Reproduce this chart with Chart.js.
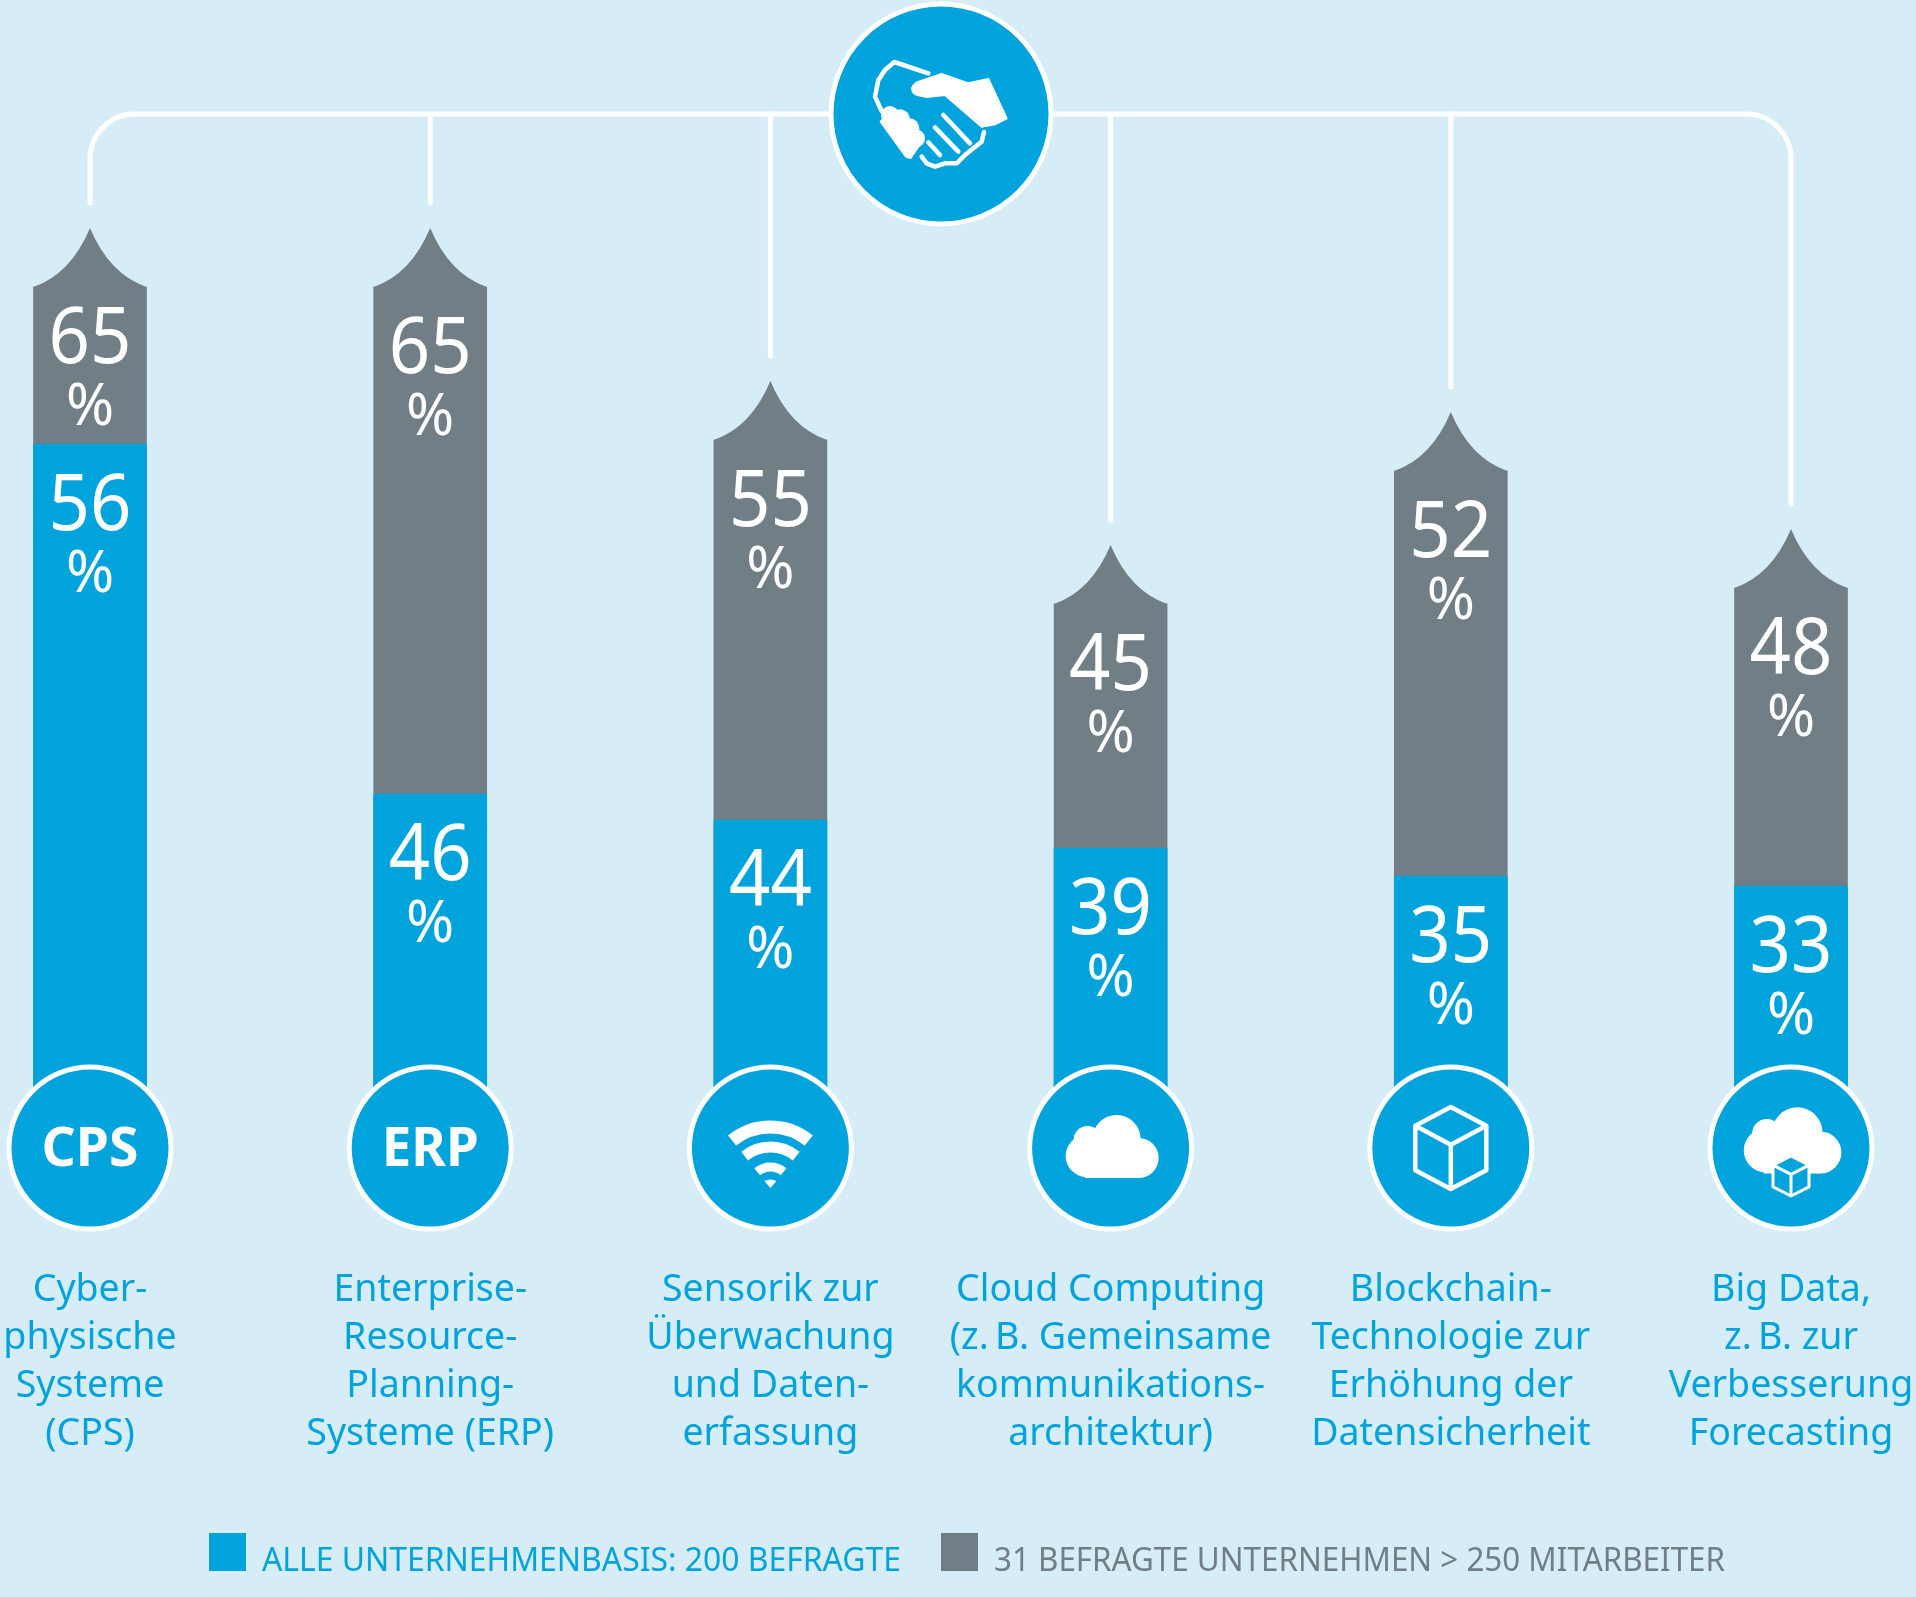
<!DOCTYPE html>
<html lang="de">
<head>
<meta charset="utf-8">
<title>Technologien</title>
<script src="https://cdn.jsdelivr.net/npm/chart.js@4/dist/chart.umd.min.js"></script>
<style>
  html, body { margin: 0; padding: 0; background: #d6ecf7; }
  canvas { display: block; }
</style>
</head>
<body>
<canvas id="chart" width="1916" height="1597"></canvas>
<script>
const categories = [
    ['Cyber-', 'physische', 'Systeme', '(CPS)'],
    ['Enterprise-', 'Resource-', 'Planning-', 'Systeme (ERP)'],
    ['Sensorik zur', 'Überwachung', 'und Daten-', 'erfassung'],
    ['Cloud Computing', '(z.\u2009B. Gemeinsame', 'kommunikations-', 'architektur)'],
    ['Blockchain-', 'Technologie zur', 'Erhöhung der', 'Datensicherheit'],
    ['Big Data,', 'z.\u2009B. zur', 'Verbesserung', 'Forecasting']
];
const allCompanies = [56, 46, 44, 39, 35, 33];
const largeCompanies = [65, 65, 55, 45, 52, 48];
const allCompaniesLabel = 'ALLE UNTERNEHMENBASIS: 200 BEFRAGTE';
const largeCompaniesLabel = '31 BEFRAGTE UNTERNEHMEN > 250 MITARBEITER';
const icons = ['CPS', 'ERP', 'wifi', 'cloud', 'cube', 'cloudCube'];

// the bars in the picture are not to one linear scale, so each series
// gets its own piecewise axis: [value, pixel]
const allCompaniesAxis = [[0, 1147], [33, 886], [35, 876], [39, 848], [44, 820], [46, 794], [56, 444]];
const largeCompaniesAxis = [[0, 1147], [45, 604], [48, 588], [52, 471], [55, 440], [65, 287]];

const BLUE = '#00a3db';
const GREY = '#717e85';
const WHITE = '#ffffff';
const FONT = '"Noto Sans", sans-serif';

class PiecewiseScale extends Chart.LinearScale {
    static id = 'piecewise';
    static defaults = {};

    getPixelForValue(value) {
        const stops = this.options.stops;
        for (let i = 1; i < stops.length; i++) {
            if (value <= stops[i][0]) {
                const t = (value - stops[i - 1][0]) / (stops[i][0] - stops[i - 1][0]);
                return stops[i - 1][1] + t * (stops[i][1] - stops[i - 1][1]);
            }
        }
        return stops[stops.length - 1][1];
    }
}
Chart.register(PiecewiseScale);

const CIRCLE_Y = 1148;
const HUB_X = 941;
const HUB_Y = 114;

function condensedText(ctx, text, x, y, squeeze) {
    ctx.fillText(text, x, y, ctx.measureText(text).width * squeeze);
}

function badge(ctx, x, y, r, border) {
    ctx.beginPath();
    ctx.arc(x, y, r, 0, Math.PI * 2);
    ctx.fillStyle = BLUE;
    ctx.fill();
    ctx.lineWidth = border;
    ctx.strokeStyle = WHITE;
    ctx.stroke();
}

function drawCloud(ctx, x, y, s) {
    ctx.fillStyle = WHITE;
    const lobes = [[-24, 8, 21], [-23, -8, 14], [6, -9, 24], [28, 10, 20]];
    lobes.forEach(l => {
        ctx.beginPath();
        ctx.arc(x + l[0] * s, y + l[1] * s, l[2] * s, 0, Math.PI * 2);
        ctx.fill();
    });
    ctx.fillRect(x - 26 * s, y + 5 * s, 54 * s, 25 * s);
}

function drawCube(ctx, x, y, w, h, lw, fill) {
    const side = h * 0.23;
    ctx.beginPath();
    ctx.moveTo(x, y - h / 2);
    ctx.lineTo(x + w / 2, y - h / 2 + side);
    ctx.lineTo(x + w / 2, y + h / 2 - side);
    ctx.lineTo(x, y + h / 2);
    ctx.lineTo(x - w / 2, y + h / 2 - side);
    ctx.lineTo(x - w / 2, y - h / 2 + side);
    ctx.closePath();
    if (fill) {
        ctx.fillStyle = fill;
        ctx.fill();
    }
    ctx.moveTo(x - w / 2, y - h / 2 + side);
    ctx.lineTo(x, y - h / 2 + 2 * side);
    ctx.lineTo(x + w / 2, y - h / 2 + side);
    ctx.moveTo(x, y - h / 2 + 2 * side);
    ctx.lineTo(x, y + h / 2);
    ctx.strokeStyle = WHITE;
    ctx.lineWidth = lw;
    ctx.lineJoin = 'round';
    ctx.stroke();
}

function drawWifi(ctx, x, y) {
    const tip = y + 40;
    const start = -Math.PI / 2 - 0.68;
    const end = -Math.PI / 2 + 0.68;
    ctx.strokeStyle = WHITE;
    [[61, 13], [41, 11], [21, 9]].forEach(a => {
        ctx.beginPath();
        ctx.lineWidth = a[1];
        ctx.arc(x, tip, a[0], start, end);
        ctx.stroke();
    });
    ctx.fillStyle = WHITE;
    ctx.beginPath();
    ctx.moveTo(x, tip);
    ctx.lineTo(x - 6, tip - 7);
    ctx.quadraticCurveTo(x, tip - 10, x + 6, tip - 7);
    ctx.closePath();
    ctx.fill();
}

function drawHandshake(ctx) {
    const px = (x, y) => [810 + x / 3, y / 3];
    const path = pts => {
        ctx.beginPath();
        pts.forEach((p, i) => {
            const q = px(p[0], p[1]);
            if (i == 0) ctx.moveTo(q[0], q[1]);
            else ctx.lineTo(q[0], q[1]);
        });
    };
    const dot = (x, y, r) => {
        const q = px(x, y);
        ctx.beginPath();
        ctx.arc(q[0], q[1], r, 0, Math.PI * 2);
        ctx.fill();
    };
    ctx.fillStyle = WHITE;
    ctx.strokeStyle = WHITE;
    ctx.lineCap = 'round';
    ctx.lineJoin = 'round';

    // right hand
    path([[535, 237], [590, 355], [555, 373], [515, 380], [405, 285], [350, 291], [322, 285], [306, 265],
          [320, 247], [395, 222], [475, 250]]);
    ctx.closePath();
    ctx.fill();
    ctx.lineWidth = 2;
    ctx.stroke();
    dot(325, 267, 7);

    // left fist
    path([[212, 365], [238, 336], [330, 432], [302, 474], [288, 470]]);
    ctx.closePath();
    ctx.fill();
    ctx.stroke();
    [[240, 345, 9], [270, 358, 10], [298, 385, 10], [318, 415, 9]].forEach(b => dot(b[0], b[1], b[2]));

    ctx.lineWidth = 4.5;
    path([[355, 220], [253, 186], [225, 210], [205, 240], [195, 290], [215, 333]]);
    ctx.stroke();
    [[[400, 345], [480, 430]], [[375, 382], [445, 455]], [[355, 427], [390, 465]]].forEach(l => {
        path(l);
        ctx.stroke();
    });
    path([[522, 396], [515, 425], [490, 445], [465, 465], [440, 490], [405, 490], [375, 500], [350, 490], [335, 470]]);
    ctx.stroke();
    ctx.lineCap = 'butt';
}

const leaderPlugin = {
    id: 'leaderPlugin',
    beforeDatasetsDraw(chart) {
        const { ctx } = chart;
        const bars = chart.getDatasetMeta(1).data;
        const r = 45;

        ctx.save();
        ctx.strokeStyle = WHITE;
        ctx.lineWidth = 5;
        ctx.lineCap = 'round';

        // rounded rail with the two outer leaders
        const first = bars[0];
        const last = bars[bars.length - 1];
        ctx.beginPath();
        ctx.moveTo(first.x, first.y - 84);
        ctx.lineTo(first.x, HUB_Y + r);
        ctx.arcTo(first.x, HUB_Y, first.x + r, HUB_Y, r);
        ctx.lineTo(last.x - r, HUB_Y);
        ctx.arcTo(last.x, HUB_Y, last.x, HUB_Y + r, r);
        ctx.lineTo(last.x, last.y - 84);
        ctx.stroke();

        bars.slice(1, -1).forEach(bar => {
            ctx.beginPath();
            ctx.moveTo(bar.x, HUB_Y);
            ctx.lineTo(bar.x, bar.y - 84);
            ctx.stroke();
        });

        // pointed roof on the grey bars
        ctx.fillStyle = GREY;
        bars.forEach(bar => {
            const half = bar.width / 2;
            ctx.beginPath();
            ctx.moveTo(bar.x - half, bar.y + 1);
            ctx.lineTo(bar.x - half, bar.y);
            ctx.quadraticCurveTo(bar.x - half * 0.34, bar.y - 13, bar.x, bar.y - 59);
            ctx.quadraticCurveTo(bar.x + half * 0.34, bar.y - 13, bar.x + half, bar.y);
            ctx.lineTo(bar.x + half, bar.y + 1);
            ctx.closePath();
            ctx.fill();
        });
        ctx.restore();
    },
    afterDatasetsDraw(chart) {
        const { ctx } = chart;
        const blueBars = chart.getDatasetMeta(0).data;
        const greyBars = chart.getDatasetMeta(1).data;

        ctx.save();
        ctx.textAlign = 'center';
        ctx.textBaseline = 'alphabetic';
        ctx.fillStyle = WHITE;

        const valueLabel = (x, top, value) => {
            ctx.font = '78px ' + FONT;
            condensedText(ctx, String(value), x, top + 55, 0.93);
            ctx.font = '58px ' + FONT;
            ctx.fillText('%', x, top + 117);
        };
        blueBars.forEach((bar, i) => {
            valueLabel(bar.x, bar.y + 31, allCompanies[i]);
        });
        greyBars.forEach((bar, i) => {
            // the label block moves up when the visible grey part is short
            const visible = blueBars[i].y - bar.y;
            valueLabel(bar.x, bar.y + Math.min(31, (visible - 117) / 2 + 1), largeCompanies[i]);
        });

        // icon badges at the foot of the bars
        blueBars.forEach((bar, i) => {
            badge(ctx, bar.x, CIRCLE_Y, 81, 5);
            ctx.fillStyle = WHITE;
            const icon = icons[i];
            if (icon == 'CPS' || icon == 'ERP') {
                ctx.font = 'bold 54px ' + FONT;
                ctx.textBaseline = 'middle';
                ctx.fillText(icon, bar.x, CIRCLE_Y + 3, 97);
                ctx.textBaseline = 'alphabetic';
            } else if (icon == 'wifi') {
                drawWifi(ctx, bar.x, CIRCLE_Y);
            } else if (icon == 'cloud') {
                drawCloud(ctx, bar.x, CIRCLE_Y, 1);
            } else if (icon == 'cube') {
                drawCube(ctx, bar.x, CIRCLE_Y, 71, 82, 4.5);
            } else if (icon == 'cloudCube') {
                drawCloud(ctx, bar.x, CIRCLE_Y - 6, 1.05);
                drawCube(ctx, bar.x, CIRCLE_Y + 28, 36, 40, 3, BLUE);
            }
        });

        // hub
        badge(ctx, HUB_X, HUB_Y, 110, 5);
        drawHandshake(ctx);

        // legend
        ctx.textAlign = 'left';
        ctx.font = '32px ' + FONT;
        chart.data.datasets.forEach((ds, i) => {
            const left = i == 0 ? 209 : 941;
            const textWidth = i == 0 ? 639 : 731;
            ctx.fillStyle = ds.backgroundColor;
            ctx.fillRect(left, 1533, 37, 38);
            ctx.fillText(ds.label, left + 53, 1571, textWidth);
        });
        ctx.restore();
    }
};

const chart = new Chart(document.getElementById('chart'), {
    type: 'bar',
    data: {
        labels: categories,
        datasets: [
            {
                label: allCompaniesLabel,
                data: allCompanies,
                backgroundColor: BLUE,
                yAxisID: 'yBlue',
                barThickness: 113,
                grouped: false,
                clip: false
            },
            {
                label: largeCompaniesLabel,
                data: largeCompanies,
                backgroundColor: GREY,
                yAxisID: 'yGrey',
                barThickness: 113,
                grouped: false,
                clip: false
            }
        ]
    },
    options: {
        responsive: false,
        animation: false,
        devicePixelRatio: 1,
        events: [],
        layout: {
            padding: { left: 90, right: 125, top: 0, bottom: 139 }
        },
        plugins: {
            legend: { display: false },
            tooltip: { enabled: false }
        },
        scales: {
            x: {
                offset: false,
                grid: { display: false },
                border: { display: false },
                ticks: {
                    autoSkip: false,
                    maxRotation: 0,
                    minRotation: 0,
                    padding: 0,
                    color: BLUE,
                    font: { family: '"Noto Sans"', size: 37.5, lineHeight: 1.28 }
                }
            },
            yBlue: { type: 'piecewise', display: false, stops: allCompaniesAxis, min: 0, max: 100 },
            yGrey: { type: 'piecewise', display: false, stops: largeCompaniesAxis, min: 0, max: 100 }
        }
    },
    plugins: [leaderPlugin]
});
</script>
</body>
</html>
